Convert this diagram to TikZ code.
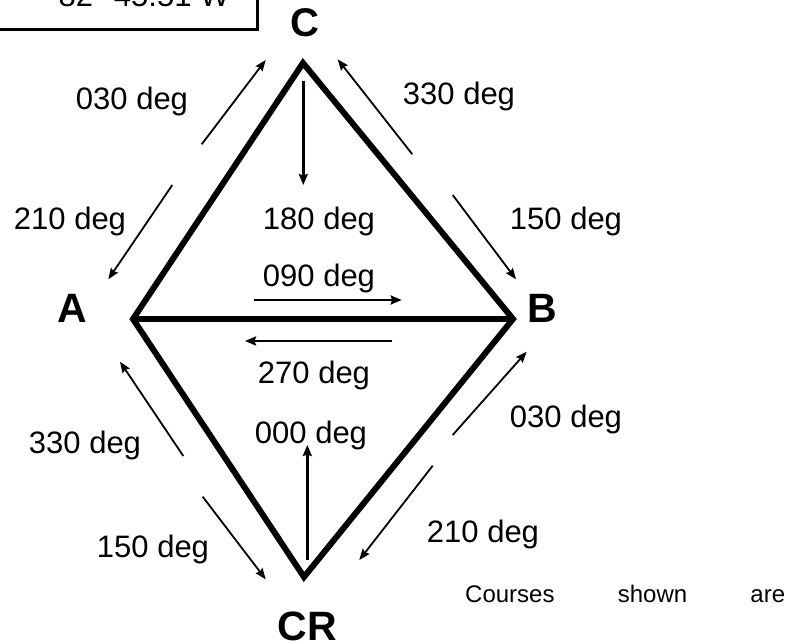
\documentclass[tikz,border=0pt]{standalone}
\usepackage{fontspec}
\setmainfont{Liberation Sans}
\usetikzlibrary{arrows.meta}
\tikzset{
  sideline/.style={line width=6pt, line join=miter, line cap=butt},
  thinarrow/.style={line width=1.8pt, -{Stealth[length=11pt,width=8.5pt,inset=1.5pt]}},
  axisarrow/.style={line width=2.4pt, -{Stealth[length=11pt,width=9pt,inset=1.5pt]}},
  deglabel/.style={inner sep=0pt, anchor=base, font=\fontsize{31}{36}\selectfont},
  vertexlabel/.style={inner sep=0pt, anchor=base, font=\fontsize{41}{48}\selectfont\bfseries},
  boxline/.style={line width=3.5pt}
}
\begin{document}
\begin{tikzpicture}[x=1pt,y=-1pt]
\useasboundingbox (0,0) rectangle (787,644);
\fill[white] (0,0) rectangle (787,644);

% top-left box (cut off)
\draw[boxline] (-20,-20) rectangle (257.5,29.5);
\node[deglabel] (boxtext) at (144,7) {82° 45.51 W};

% vertices
\coordinate (C) at (303,63);
\coordinate (A) at (133,319);
\coordinate (B) at (513,319);
\coordinate (CR) at (304,577);

\draw[sideline] (A) -- (C) -- (B) -- (CR) -- cycle;
\draw[sideline] (A) -- (B);

% vertex labels
\node[vertexlabel, font=\fontsize{40}{46}\selectfont\bfseries] (lC) at (304.5,36.5) {C};
\node[vertexlabel] (lA) at (72,323) {A};
\node[vertexlabel] (lB) at (542,323) {B};
\node[vertexlabel] (lCR) at (307.5,640) {CR};

% arrow end points
\coordinate (a1s) at (201.7,144.3); \coordinate (a1e) at (265.7,60);
\coordinate (a2s) at (172.3,185);   \coordinate (a2e) at (108.3,279.3);
\coordinate (a3s) at (303.3,80.7);  \coordinate (a3e) at (303.3,185);
\coordinate (a4s) at (412.3,154.3); \coordinate (a4e) at (337.7,59.3);
\coordinate (a5s) at (452.7,195);   \coordinate (a5e) at (516,279.3);
\coordinate (a6s) at (254.3,300);   \coordinate (a6e) at (401.7,300);
\coordinate (a7s) at (392.3,341);   \coordinate (a7e) at (245,341);
\coordinate (a8s) at (183.3,456);   \coordinate (a8e) at (120,361.7);
\coordinate (a9s) at (202.7,496.7); \coordinate (a9e) at (265.7,579.3);
\coordinate (a10s) at (307.3,560);  \coordinate (a10e) at (307.3,445);
\coordinate (a11s) at (452.7,435);  \coordinate (a11e) at (526.7,351.7);
\coordinate (a12s) at (432.7,465.7);\coordinate (a12e) at (359.3,560);

\draw[thinarrow] (a1s) -- (a1e);
\draw[thinarrow] (a2s) -- (a2e);
\draw[axisarrow] (a3s) -- (a3e);
\draw[thinarrow] (a4s) -- (a4e);
\draw[thinarrow] (a5s) -- (a5e);
\draw[axisarrow] (a6s) -- (a6e);
\draw[axisarrow] (a7s) -- (a7e);
\draw[thinarrow] (a8s) -- (a8e);
\draw[thinarrow] (a9s) -- (a9e);
\draw[axisarrow] (a10s) -- (a10e);
\draw[thinarrow] (a11s) -- (a11e);
\draw[thinarrow] (a12s) -- (a12e);

% course labels
\node[deglabel] (d1) at (132,110) {030 deg};
\node[deglabel] (d2) at (70,230) {210 deg};
\node[deglabel] (d3) at (319,230) {180 deg};
\node[deglabel] (d4) at (459,105) {330 deg};
\node[deglabel] (d5) at (566,230) {150 deg};
\node[deglabel] (d6) at (319,287) {090 deg};
\node[deglabel] (d7) at (314,383) {270 deg};
\node[deglabel] (d8) at (85,453) {330 deg};
\node[deglabel] (d9) at (153,557) {150 deg};
\node[deglabel] (d10) at (311,443) {000 deg};
\node[deglabel] (d11) at (566,427) {030 deg};
\node[deglabel] (d12) at (483,542) {210 deg};

% note
\node[inner sep=0pt, anchor=base west, font=\fontsize{24}{28}\selectfont] (note) at (465,602)
  {\makebox[320pt][s]{Courses shown are}};
\end{tikzpicture}
\end{document}
